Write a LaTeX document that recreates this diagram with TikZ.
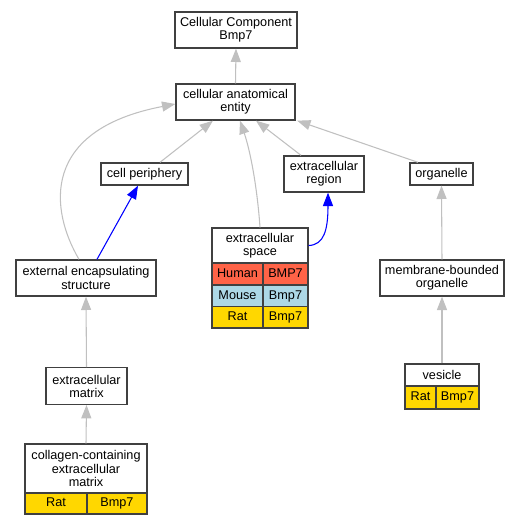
\documentclass[tikz,border=0pt]{standalone}
\usepackage{fontspec}
\setmainfont{Liberation Sans}
\usetikzlibrary{arrows.meta,calc}
\definecolor{edgegray}{HTML}{C0C0C0}
\definecolor{boxline}{HTML}{404040}
\definecolor{human}{HTML}{FF6347}
\definecolor{mouse}{HTML}{ADD8E6}
\definecolor{rat}{HTML}{FFD700}
\tikzset{
	box/.style={draw=boxline,line width=1pt,fill=white,inner sep=0pt,align=center,
		font=\fontsize{9.5}{9.8}\selectfont},
	cell/.style={box,text height=7pt,text depth=2pt},
	isa/.style={draw=edgegray,line width=0.8pt,-{Triangle[length=10pt,width=7.5pt]}},
	reg/.style={isa,draw=blue,-{Triangle[length=10pt,width=7.5pt,fill=blue]}}
}
\begin{document}
\begin{tikzpicture}[x=0.75pt,y=-0.75pt]
	\useasboundingbox (0,0) rectangle (520,525);
	% terms
	\node[box,minimum width=91.5pt,minimum height=27pt] (cce) at (236,30) {Cellular Component\\Bmp7};
	\node[box,minimum width=89.25pt,minimum height=27pt] (cae) at (235.5,102) {cellular anatomical\\entity};
	\node[box,minimum width=65.25pt,minimum height=16.5pt] (cp) at (144.5,174) {cell periphery};
	\node[box,minimum width=60pt,minimum height=27pt] (er) at (324,174) {extracellular\\region};
	\node[box,minimum width=47.25pt,minimum height=16.5pt] (org) at (441.5,174) {organelle};
	\node[box,minimum width=105pt,minimum height=27pt] (ees) at (86,278) {external encapsulating\\structure};
	\node[box,minimum width=93pt,minimum height=27pt] (mbo) at (442,278) {membrane-bounded\\organelle};
	\node[box,minimum width=60.75pt,minimum height=27.5pt] (ecm) at (86.5,386) {extracellular\\matrix};
	
	% extracellular space with its genes
	\node[box,minimum width=72pt,minimum height=26.25pt] (esh) at (260,245.5) {extracellular\\space};
	\node[cell,fill=human,minimum width=38.25pt,minimum height=16.5pt] (esh1) at (237.5,274) {Human};
	\node[cell,fill=human,minimum width=33.75pt,minimum height=16.5pt] (esg1) at (285.5,274) {BMP7};
	\node[cell,fill=mouse,minimum width=38.25pt,minimum height=16.1pt] (esh2) at (237.5,295.75) {Mouse};
	\node[cell,fill=mouse,minimum width=33.75pt,minimum height=16.1pt] (esg2) at (285.5,295.75) {Bmp7};
	\node[cell,fill=rat,minimum width=38.25pt,minimum height=16.1pt] (esh3) at (237.5,317.25) {Rat};
	\node[cell,fill=rat,minimum width=33.75pt,minimum height=16.1pt] (esg3) at (285.5,317.25) {Bmp7};
	
	% collagen-containing extracellular matrix
	\node[box,minimum width=91.5pt,minimum height=36.75pt] (colh) at (86,468.5) {collagen-containing\\extracellular\\matrix};
	\node[cell,fill=rat,minimum width=46.5pt,minimum height=15.75pt] (cols) at (56,503.5) {Rat};
	\node[cell,fill=rat,minimum width=45pt,minimum height=15.75pt] (colg) at (117,503.5) {Bmp7};
	
	% vesicle
	\node[box,minimum width=55.5pt,minimum height=16.5pt] (vesh) at (442,375) {vesicle};
	\node[cell,fill=rat,minimum width=23.25pt,minimum height=17.25pt] (vess) at (420.5,397.5) {Rat};
	\node[cell,fill=rat,minimum width=32.25pt,minimum height=17.25pt] (vesg) at (457.5,397.5) {Bmp7};
	
	% is_a
	\draw[isa] (cae.north) -- (cce.south);
	\draw[isa] ($(cp.north)+(15.5,0)$) -- ($(cae.south)+(-22.5,0)$);
	\draw[isa] ($(er.north)+(-23,0)$) -- ($(cae.south)+(20.5,0)$);
	\draw[isa] ($(org.north)+(-23.5,0)$) -- ($(cae.south east)+(1.5,0)$);
	\draw[isa] (esh.north) .. controls (257,185) and (250,150) .. ($(cae.south)+(4.5,0)$);
	\draw[isa] ($(ees.north)+(-7,0)$) .. controls (50,210) and (40,130) .. ($(cae.west)+(0,2)$);
	\draw[isa] (mbo.north) -- (org.south);
	\draw[isa] (vesh.north) -- (mbo.south);
	\draw[isa] (ecm.north) -- (ees.south);
	\draw[isa] (colh.north) -- (ecm.south);
	
	% part_of
	\draw[reg] ($(ees.north)+(11,0)$) -- ($(cp.south)+(-6.5,0)$);
	\draw[reg] (esh.east) .. controls (324,245) and (328,230) .. ($(er.south)+(4,0)$);
\end{tikzpicture}
\end{document}
